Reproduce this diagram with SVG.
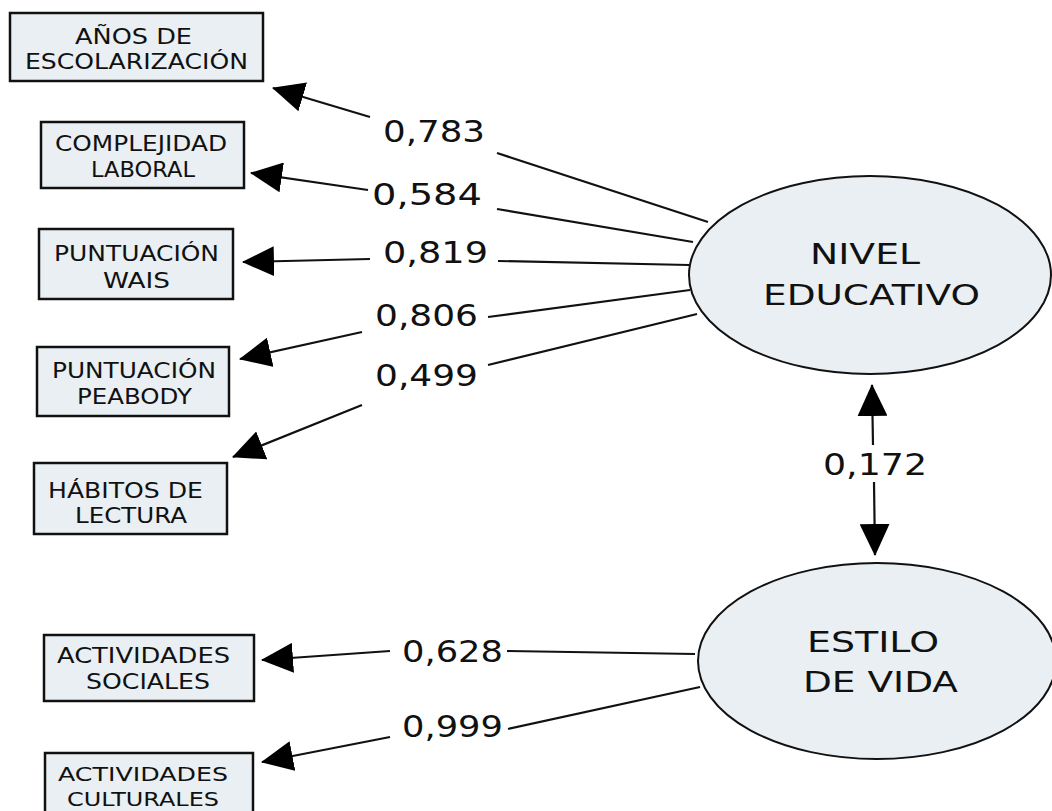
<svg xmlns="http://www.w3.org/2000/svg" width="1052" height="811" viewBox="0 0 1052 811">
<defs>
<style>
.box{fill:#e9eff2;stroke:#111;stroke-width:2.5}
.ell{fill:#e9eff2;stroke:#111;stroke-width:2}
.t{font-family:"DejaVu Sans","Verdana",sans-serif;fill:#111}
.bt{font-size:22px}
.bs{font-size:20px}
.num{font-size:30px}
.et{font-size:29px}
.c{stroke:#111;stroke-width:2.2;fill:none}
.a{marker-end:url(#ah)}
</style>
<marker id="ah" markerUnits="userSpaceOnUse" markerWidth="32" markerHeight="30" viewBox="0 0 32 30" refX="31" refY="15" orient="auto">
<path d="M0,0 L32,15 L0,30 z" fill="#000"/>
</marker>
</defs>
<rect width="1052" height="811" fill="#fff"/>

<g id="connectors">
<line class="c" x1="708" y1="222" x2="497" y2="153"/>
<line class="c a" x1="370" y1="117" x2="273" y2="88"/>
<line class="c" x1="693" y1="242" x2="497" y2="209"/>
<line class="c a" x1="368" y1="190" x2="251" y2="173"/>
<line class="c" x1="689" y1="265" x2="498" y2="261"/>
<line class="c a" x1="370" y1="259" x2="243" y2="262"/>
<line class="c" x1="690" y1="290" x2="488" y2="317"/>
<line class="c a" x1="362" y1="332" x2="240" y2="359"/>
<line class="c" x1="697" y1="314" x2="488" y2="365"/>
<line class="c a" x1="362" y1="405" x2="233" y2="457"/>
<line class="c a" x1="873" y1="445" x2="872" y2="385"/>
<line class="c a" x1="874" y1="482" x2="875" y2="555"/>
<line class="c" x1="695" y1="654" x2="507" y2="651"/>
<line class="c a" x1="390" y1="651" x2="262" y2="660"/>
<line class="c" x1="700" y1="687" x2="508" y2="729"/>
<line class="c a" x1="390" y1="737" x2="262" y2="762"/>
<g class="t num">
<text x="383" y="142" textLength="102" lengthAdjust="spacingAndGlyphs">0,783</text>
<text x="372" y="205" textLength="110" lengthAdjust="spacingAndGlyphs">0,584</text>
<text x="383" y="263" textLength="105" lengthAdjust="spacingAndGlyphs">0,819</text>
<text x="375" y="326" textLength="103" lengthAdjust="spacingAndGlyphs">0,806</text>
<text x="375" y="386" textLength="103" lengthAdjust="spacingAndGlyphs">0,499</text>
<text x="823" y="475" textLength="104" lengthAdjust="spacingAndGlyphs">0,172</text>
<text x="402" y="662" textLength="101" lengthAdjust="spacingAndGlyphs">0,628</text>
<text x="402" y="737" textLength="101" lengthAdjust="spacingAndGlyphs">0,999</text>
</g>
</g>

<g id="n-anos">
<rect class="box" x="10" y="13" width="253" height="68"/>
<text class="t bt" x="75" y="44" textLength="117" lengthAdjust="spacingAndGlyphs">AÑOS DE</text>
<text class="t bt" x="25" y="69" textLength="223" lengthAdjust="spacingAndGlyphs">ESCOLARIZACIÓN</text>
</g>
<g id="n-complejidad">
<rect class="box" x="41" y="122" width="203" height="66"/>
<text class="t bt" x="55" y="151" textLength="172" lengthAdjust="spacingAndGlyphs">COMPLEJIDAD</text>
<text class="t bt" x="91" y="177" textLength="104" lengthAdjust="spacingAndGlyphs">LABORAL</text>
</g>
<g id="n-wais">
<rect class="box" x="39" y="229" width="194" height="70"/>
<text class="t bt" x="54" y="261" textLength="165" lengthAdjust="spacingAndGlyphs">PUNTUACIÓN</text>
<text class="t bt" x="103" y="288" textLength="67" lengthAdjust="spacingAndGlyphs">WAIS</text>
</g>
<g id="n-peabody">
<rect class="box" x="37" y="347" width="192" height="69"/>
<text class="t bt" x="52" y="378" textLength="164" lengthAdjust="spacingAndGlyphs">PUNTUACIÓN</text>
<text class="t bt" x="77" y="404" textLength="115" lengthAdjust="spacingAndGlyphs">PEABODY</text>
</g>
<g id="n-habitos">
<rect class="box" x="34" y="463" width="193" height="71"/>
<text class="t bt" x="48" y="498" textLength="155" lengthAdjust="spacingAndGlyphs">HÁBITOS DE</text>
<text class="t bt" x="75" y="523" textLength="112" lengthAdjust="spacingAndGlyphs">LECTURA</text>
</g>
<g id="n-sociales">
<rect class="box" x="44" y="635" width="210" height="66"/>
<text class="t bt" x="57" y="663" textLength="173" lengthAdjust="spacingAndGlyphs">ACTIVIDADES</text>
<text class="t bt" x="86" y="689" textLength="124" lengthAdjust="spacingAndGlyphs">SOCIALES</text>
</g>
<g id="n-culturales">
<rect class="box" x="45" y="753" width="208" height="70"/>
<text class="t bs" x="58" y="781" textLength="170" lengthAdjust="spacingAndGlyphs">ACTIVIDADES</text>
<text class="t bs" x="67" y="806" textLength="152" lengthAdjust="spacingAndGlyphs">CULTURALES</text>
</g>
<g id="n-nivel">
<ellipse class="ell" cx="870" cy="275" rx="181" ry="99"/>
<text class="t et" x="810" y="264" textLength="110" lengthAdjust="spacingAndGlyphs">NIVEL</text>
<text class="t et" x="763" y="305" textLength="217" lengthAdjust="spacingAndGlyphs">EDUCATIVO</text>
</g>
<g id="n-estilo">
<ellipse class="ell" cx="877" cy="661" rx="179" ry="98"/>
<text class="t et" x="807" y="652" textLength="132" lengthAdjust="spacingAndGlyphs">ESTILO</text>
<text class="t et" x="803" y="692" textLength="155" lengthAdjust="spacingAndGlyphs">DE VIDA</text>
</g>
</svg>
